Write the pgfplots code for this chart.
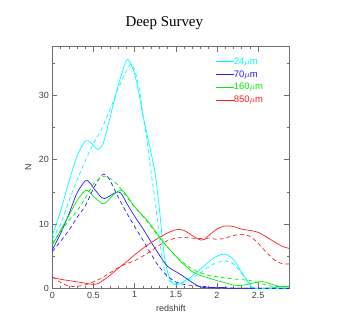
\documentclass[border=0pt]{standalone}
\usepackage{fontspec}
\setmainfont{Liberation Serif}
\setsansfont{Liberation Sans}
\usepackage{pgfplots}
\pgfplotsset{compat=1.18}
\definecolor{mycyan}{RGB}{0,255,255}
\definecolor{myblue}{RGB}{30,30,255}
\definecolor{mygreen}{RGB}{0,240,0}
\definecolor{myred}{RGB}{255,30,30}
\definecolor{axgray}{RGB}{110,110,110}
\begin{document}
\begin{tikzpicture}
\begin{axis}[
  name=ax,
  scale only axis, width=237bp, height=241.6bp,
  xmin=0, xmax=2.879, ymin=0, ymax=37.56,
  xtick={0,0.5,1,1.5,2,2.5}, xticklabels={0,0.5,1,1.5,2,2.5},
  ytick={0,10,20,30}, minor x tick num=4, minor ytick={5,15,25,35},
  tick align=inside, major tick length=5bp, minor tick length=2.5bp,
  axis line style={axgray, line width=0.6bp},
  every tick/.style={axgray, line width=0.5bp},
  tick label style={font=\sffamily\fontsize{9}{10}\selectfont, color=black!75},
  /pgf/number format/assume math mode=true,
  xlabel={redshift}, ylabel={N},
  every axis x label/.style={at={(rel axis cs:0.5,0)}, yshift=-19.7bp, anchor=center, font=\sffamily\fontsize{9}{10}\selectfont, color=black!75},
  every axis y label/.style={at={(rel axis cs:0,0.5)}, xshift=-24bp, rotate=90, anchor=center, font=\sffamily\fontsize{9}{10}\selectfont, color=black!75},
  title={Deep Survey},
  title style={at={(rel axis cs:0.5,1)}, anchor=base, yshift=14.5bp, xshift=-6.5bp, font=\fontsize{15}{17}\selectfont},
  legend style={at={(rel axis cs:0.6865,0.955)}, anchor=north west, draw=none, fill=none,
    font=\sffamily\fontsize{9.5}{11}\selectfont, row sep=4.6bp, inner sep=0pt,
    nodes={inner sep=0pt}},
  legend cell align=left,
  legend image code/.code={\draw[#1] (0bp,0bp) -- (18bp,0bp);},
  every axis plot/.append style={line width=0.7bp, smooth},
]
% solid
\addplot[mycyan] coordinates {
(0,8.2) (0.1,12) (0.2,16.5) (0.3,20.5) (0.4,22.9) (0.47,22.6) (0.55,21.6) (0.62,22.6)
(0.7,26.5) (0.8,31.5) (0.9,35.4) (0.95,35.0) (1.0,33.3) (1.05,30.5) (1.1,27) (1.15,24)
(1.2,21) (1.25,17.8) (1.3,12.5) (1.35,6) (1.4,2.5) (1.45,1.0) (1.5,0.5) (1.55,0.7)
(1.6,1.1) (1.7,1.9) (1.8,3.0) (1.9,4.1) (2.0,5.0) (2.1,5.3) (2.2,4.5) (2.3,2.5)
(2.4,0.6) (2.45,0) (2.6,0) (2.7,0.1) (2.8,0.3) (2.879,0.3)};
\addlegendentry{\textcolor{mycyan}{24$\mu$m}}
\addplot[myblue] coordinates {
(0,6.0) (0.1,8.5) (0.2,11.5) (0.3,14.8) (0.4,16.7) (0.45,16.5) (0.5,15.6) (0.6,14.1)
(0.65,14.0) (0.7,14.4) (0.8,15.0) (0.85,14.5) (0.9,13.3) (1.0,11.2) (1.1,9.3) (1.2,7.2)
(1.3,5.2) (1.4,3.4) (1.5,2.6) (1.6,1.8) (1.7,0.9) (1.8,0.2) (1.9,0.1) (2.0,0.15)
(2.1,0.1) (2.2,0) (2.879,0)};
\addlegendentry{\textcolor{myblue}{70$\mu$m}}
\addplot[mygreen] coordinates {
(0,6.7) (0.1,9.0) (0.2,11.3) (0.3,13.6) (0.4,15.2) (0.45,15.0) (0.5,14.3) (0.6,13.2)
(0.65,13.3) (0.7,14.0) (0.8,15.1) (0.85,15.2) (0.9,14.5) (1.0,12.7) (1.1,11.3) (1.2,9.8)
(1.3,8.0) (1.4,6.4) (1.5,5.0) (1.6,3.7) (1.7,2.6) (1.8,2.0) (1.9,1.6) (2.0,1.2)
(2.1,0.85) (2.2,0.5) (2.3,0.45) (2.4,0.7) (2.5,1.0) (2.55,1.05) (2.6,0.9) (2.7,0.5)
(2.8,0.2) (2.879,0.3)};
\addlegendentry{\textcolor{mygreen}{160$\mu$m}}
\addplot[myred] coordinates {
(0,1.7) (0.1,1.4) (0.2,1.2) (0.3,1.0) (0.4,0.8) (0.5,0.6) (0.55,0.7) (0.6,1.1)
(0.7,2.0) (0.8,3.1) (0.9,4.1) (1.0,5.2) (1.1,6.2) (1.2,7.1) (1.3,7.9) (1.4,8.6)
(1.5,9.1) (1.55,9.15) (1.6,9.0) (1.7,8.2) (1.8,7.5) (1.85,7.6) (1.9,8.2) (2.0,9.2)
(2.1,9.7) (2.2,9.6) (2.3,9.2) (2.4,9.0) (2.5,8.7) (2.6,8.0) (2.7,7.2) (2.8,6.5) (2.879,6.2)};
\addlegendentry{\textcolor{myred}{850$\mu$m}}
% dashed
\addplot[mycyan, dash pattern=on 4bp off 3bp, forget plot] coordinates {
(0,7.6) (0.1,10) (0.2,13.5) (0.3,16.8) (0.4,19.8) (0.5,22.5) (0.6,24.8) (0.7,27.8)
(0.8,31) (0.9,33.8) (0.97,34.8) (1.05,31.5) (1.1,27) (1.15,23) (1.2,18) (1.25,13.5)
(1.3,8) (1.35,3.5) (1.4,1.6) (1.45,0.9) (1.55,0.8) (1.65,1.2) (1.8,2.4) (1.9,3.3)
(2.0,4.0) (2.1,4.25) (2.2,3.8) (2.3,2.3) (2.4,0.6) (2.45,0) (2.879,0)};
\addplot[myblue, dash pattern=on 4bp off 3bp, forget plot] coordinates {
(0,5.7) (0.1,7.3) (0.2,9.0) (0.3,11.0) (0.4,12.8) (0.5,15.5) (0.6,17.6) (0.65,17.6)
(0.7,16.8) (0.8,14.2) (0.9,11.8) (1.0,9.6) (1.1,7.5) (1.2,5.3) (1.3,3.3) (1.4,1.9)
(1.5,1.0) (1.6,0.6) (1.7,0.45) (1.8,0.35) (1.9,0.2) (2.0,0.05) (2.879,0)};
\addplot[mygreen, dash pattern=on 4bp off 3bp, forget plot] coordinates {
(0,7.0) (0.1,8.8) (0.2,10.5) (0.3,12.0) (0.4,14.0) (0.5,16.2) (0.6,17.3) (0.65,17.4)
(0.7,17.1) (0.8,16.0) (0.9,14.3) (1.0,12.6) (1.1,11.2) (1.2,9.6) (1.3,7.9) (1.4,6.4)
(1.5,5.0) (1.6,3.9) (1.7,3.0) (1.8,2.4) (1.9,2.0) (2.0,1.8) (2.1,1.6) (2.2,1.45)
(2.3,1.35) (2.4,1.2) (2.5,0.9) (2.6,0.5) (2.7,0.3) (2.879,0.3)};
\addplot[myred, dash pattern=on 4bp off 3bp, forget plot] coordinates {
(0,1.8) (0.1,0.9) (0.2,0.35) (0.3,0.3) (0.4,0.55) (0.5,1.0) (0.6,1.6) (0.7,2.4)
(0.8,3.2) (0.9,3.8) (1.0,4.3) (1.1,5.0) (1.2,5.8) (1.3,6.7) (1.4,7.4) (1.5,7.8)
(1.6,7.9) (1.7,7.8) (1.8,7.75) (1.9,7.8) (2.0,7.6) (2.1,7.8) (2.2,8.2) (2.3,8.4)
(2.4,8.1) (2.5,7.0) (2.6,5.6) (2.7,4.4) (2.8,3.8) (2.879,3.8)};
\end{axis}
\path (ax.south west) ++(-52.3bp,-37.7bp);
\path (ax.north east) ++(49.7bp,46.7bp);
\end{tikzpicture}
\end{document}
